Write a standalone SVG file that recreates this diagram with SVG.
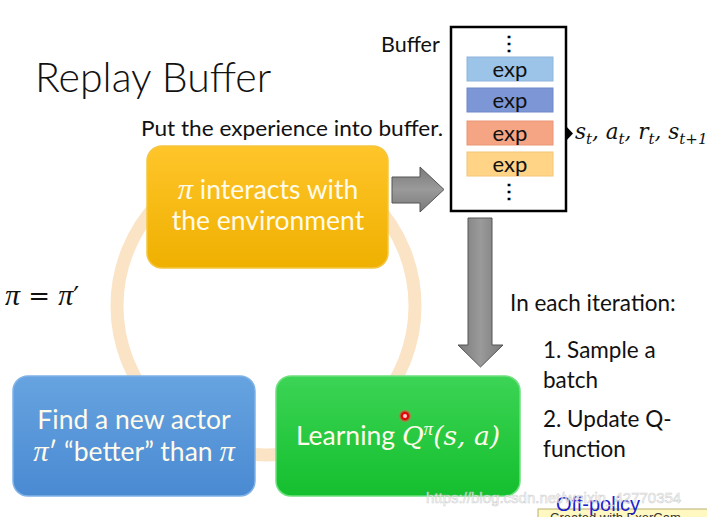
<svg xmlns="http://www.w3.org/2000/svg" width="707" height="517" viewBox="0 0 707 517">
<defs>
<linearGradient id="gY" x1="0" y1="0" x2="0" y2="1"><stop offset="0" stop-color="#ffc52a"/><stop offset="1" stop-color="#efb000"/></linearGradient>
<linearGradient id="gB" x1="0" y1="0" x2="0" y2="1"><stop offset="0" stop-color="#66a3e0"/><stop offset="1" stop-color="#4a8ad2"/></linearGradient>
<linearGradient id="gG" x1="0" y1="0" x2="0" y2="1"><stop offset="0" stop-color="#3cd455"/><stop offset="1" stop-color="#14bf2e"/></linearGradient>
<linearGradient id="gA" x1="0" y1="0" x2="1" y2="0"><stop offset="0" stop-color="#7a7a7a"/><stop offset="0.5" stop-color="#9a9a9a"/><stop offset="1" stop-color="#7a7a7a"/></linearGradient>
<linearGradient id="gA2" x1="0" y1="0" x2="0" y2="1"><stop offset="0" stop-color="#7a7a7a"/><stop offset="0.5" stop-color="#9a9a9a"/><stop offset="1" stop-color="#7a7a7a"/></linearGradient>
<radialGradient id="gR"><stop offset="0" stop-color="#ff2020"/><stop offset="0.5" stop-color="#e00000"/><stop offset="1" stop-color="#ff8080" stop-opacity="0"/></radialGradient>
</defs>
<style>
.t{font-family:Lato,"Open Sans","Liberation Sans",sans-serif;fill:#111}
.w{font-family:Lato,"Open Sans","Liberation Sans",sans-serif;fill:#fffbea;font-size:26.5px;text-anchor:middle}
.m{font-family:"DejaVu Serif","Liberation Serif",serif;font-style:italic}
.p{font-family:"Liberation Serif",serif;font-style:italic;font-size:1.15em}
.ps{font-family:"Liberation Serif",serif;font-style:italic;font-size:19px}
.exp{font-family:Lato,"Open Sans","Liberation Sans",sans-serif;font-size:22px;fill:#111;text-anchor:middle}
.bar{stroke-width:1}
.r{font-size:22.5px}
</style>
<rect width="707" height="517" fill="#ffffff"/>
<circle cx="266" cy="306" r="149" fill="none" stroke="#fbe4c6" stroke-width="13"/>
<text class="t" x="35" y="92" font-size="41" font-weight="300">Replay Buffer</text>
<text class="t" x="141" y="136" font-size="22" textLength="302" lengthAdjust="spacingAndGlyphs">Put the experience into buffer.</text>
<text class="t" x="381" y="52" font-size="21.5">Buffer</text>
<text x="5" y="305" font-size="26" font-family="DejaVu Serif,Liberation Serif,serif" fill="#111"><tspan class="p">π</tspan> = <tspan class="p">π</tspan>′</text>
<g id="connectors">
<polygon points="392,177 420,177 420,167 444,189.5 420,212 420,203 392,203" fill="url(#gA2)" stroke="#555" stroke-width="1"/>
<polygon points="468,218 492,218 492,345 503,345 480.5,367 458,345 468,345" fill="url(#gA)" stroke="#555" stroke-width="1"/>
<polygon points="555,125 565,125 573,133.5 565,142 555,142" fill="#000"/>
</g>
<g id="buffer">
<rect x="451" y="27" width="115" height="184" fill="#fff" stroke="#000" stroke-width="2.5"/>
<text x="509" y="50" font-size="20" font-weight="bold" text-anchor="middle" font-family="Liberation Sans,sans-serif">⋮</text>
<rect class="bar" x="467" y="57" width="86" height="24" fill="#9cc3e8" stroke="#8fb4dc"/>
<text class="exp" x="510" y="77">exp</text>
<rect class="bar" x="467" y="88" width="86" height="24" fill="#7d96d6" stroke="#6f88c8"/>
<text class="exp" x="510" y="108">exp</text>
<rect class="bar" x="467" y="121" width="86" height="24" fill="#f5a584" stroke="#e99575"/>
<text class="exp" x="510" y="141">exp</text>
<rect class="bar" x="467" y="152" width="86" height="24" fill="#ffd487" stroke="#f4c676"/>
<text class="exp" x="510" y="172">exp</text>
<text x="509" y="198" font-size="20" font-weight="bold" text-anchor="middle" font-family="Liberation Sans,sans-serif">⋮</text>
</g>
<text x="575" y="139" font-size="21.5" class="m" fill="#111">s<tspan font-size="15" dy="5">t</tspan><tspan dy="-5">, a</tspan><tspan font-size="15" dy="5">t</tspan><tspan dy="-5">, r</tspan><tspan font-size="15" dy="5">t</tspan><tspan dy="-5">, s</tspan><tspan font-size="15" dy="5">t+1</tspan></text>
<g id="interact">
<rect x="147" y="146" width="241" height="122" rx="15" fill="url(#gY)" stroke="#f3c640" stroke-width="1.5"/>
<text class="w" x="268" y="199"><tspan class="p">π</tspan> interacts with</text>
<text class="w" x="268" y="230">the environment</text>
</g>
<g id="actor">
<rect x="13" y="376" width="242" height="120" rx="15" fill="url(#gB)" stroke="#7fb3e8" stroke-width="1.5"/>
<text class="w" x="134" y="429">Find a new actor</text>
<text class="w" x="134" y="461"><tspan class="p">π</tspan>′ “better” than <tspan class="p">π</tspan></text>
</g>
<g id="learning">
<rect x="276" y="376" width="244" height="120" rx="15" fill="url(#gG)" stroke="#6fe07f" stroke-width="1.5"/>
<text class="w" x="398" y="445">Learning <tspan class="m">Q</tspan><tspan class="ps" dy="-10">π</tspan><tspan class="m" dy="10">(s, a)</tspan></text>
</g>
<circle cx="405" cy="416" r="7" fill="url(#gR)"/>
<circle cx="405" cy="416" r="2" fill="#ffd0d0"/>
<text class="t r" x="510" y="311">In each iteration:</text>
<text class="t r" x="543" y="358">1. Sample a</text>
<text class="t r" x="543" y="388">batch</text>
<text class="t r" x="543" y="427">2. Update Q-</text>
<text class="t r" x="543" y="457">function</text>
<rect x="538" y="509" width="170" height="10" fill="#fff8c0" stroke="#b8b070" stroke-width="1"/>
<text x="550" y="522" font-size="13" font-family="Liberation Sans,sans-serif" fill="#333">Created with ExerCam</text>
<text x="556" y="511" font-size="20" font-family="Liberation Sans,sans-serif" fill="#2020d0">Off-policy</text>
<text x="426" y="503" font-size="15" font-family="Liberation Sans,sans-serif" fill="#ffffff" stroke="#c8c8c8" stroke-width="0.6" opacity="0.8">https://blog.csdn.net/weixin_42770354</text>
</svg>
